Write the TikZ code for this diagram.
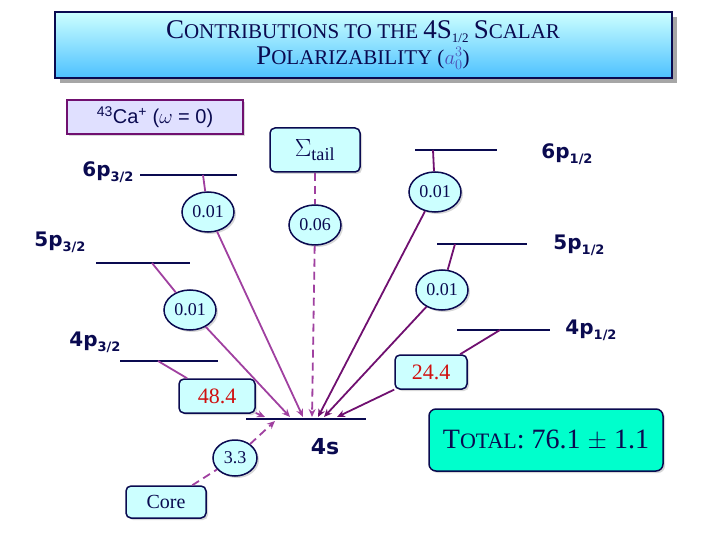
\documentclass[tikz,border=0pt]{standalone}
\usepackage{fontspec}
\setmainfont{Liberation Serif}
\newfontfamily\lvlfont{DejaVu Sans}
\newfontfamily\arialf{Liberation Sans}
\usetikzlibrary{shapes.geometric,arrows.meta,shadows}
\definecolor{navy}{HTML}{0A0A50}
\definecolor{cyanbg}{HTML}{CCFFFF}
\definecolor{lpur}{HTML}{A040A0}
\definecolor{dpur}{HTML}{701070}
\definecolor{numred}{HTML}{D01010}
\definecolor{totbg}{HTML}{00FFCC}
\newcommand\lsub[1]{\raisebox{-0.45ex}{\fontsize{13}{13}\selectfont #1}}
\newcommand\bigC[1]{{\fontsize{27}{27}\selectfont #1}}
\tikzset{
 lvl/.style={draw=navy,line width=1.6pt},
 lvllab/.style={font=\lvlfont\bfseries\fontsize{20}{20}\selectfont,text=navy},
 ell/.style={ellipse,draw=navy,line width=1.5pt,fill=cyanbg,inner sep=1pt,minimum width=52pt,minimum height=40pt,font=\fontsize{18}{18}\selectfont,text=navy,drop shadow={shadow xshift=2pt,shadow yshift=-2pt,fill=gray!60}},
 rbox/.style={rectangle,rounded corners=5pt,draw=navy,line width=1.5pt,fill=cyanbg,font=\fontsize{22}{22}\selectfont,drop shadow={shadow xshift=2pt,shadow yshift=-2pt,fill=gray!60}},
 lcon/.style={draw=lpur,line width=1.8pt},
 dcon/.style={draw=dpur,line width=1.8pt},
 arr/.style={-{Stealth[length=8pt,width=7pt]}},
}
\begin{document}
\begin{tikzpicture}[x=1pt,y=-1pt]
\useasboundingbox (0,0) rectangle (720,540);
% title
\fill[gray!70] (60,17) rectangle (677,83);
\shade[top color=cyan!20!white,bottom color=blue!35!cyan!70!white,draw=navy,line width=1.5pt] (55,12) rectangle (672,78);
\node[text=navy,align=center,font=\fontsize{21}{26}\selectfont,inner sep=0pt] (title) at (363,45) {\bigC{C}ONTRIBUTIONS TO THE \bigC{4S}\lsub{1/2} \bigC{S}CALAR\\\bigC{P}OLARIZABILITY ({\color{blue!40!gray}$a_0^3$})};
% Ca box
\node[draw=dpur,line width=1.5pt,fill=blue!12,minimum width=176pt,minimum height=34pt,text=navy,font=\arialf\fontsize{20}{20}\selectfont,drop shadow={shadow xshift=2pt,shadow yshift=-2pt,fill=gray!60}] (ca) at (155,117) {\textsuperscript{43}Ca\textsuperscript{+} ($\omega$ = 0)};
% levels
\draw[lvl] (140,175) -- (237,175);
\draw[lvl] (96,263) -- (190,263);
\draw[lvl] (120,361) -- (218,361);
\draw[lvl] (415,150) -- (497,150);
\draw[lvl] (437,244) -- (527,244);
\draw[lvl] (457,330) -- (550,330);
\draw[lvl] (246,419) -- (366,419);
\node[lvllab] (t6p3) at (108,172) {6p\lsub{3/2}};
\node[lvllab] (t5p3) at (60,242) {5p\lsub{3/2}};
\node[lvllab] (t4p3) at (95,342) {4p\lsub{3/2}};
\node[lvllab] (t6p1) at (567,154) {6p\lsub{1/2}};
\node[lvllab] (t5p1) at (579,245) {5p\lsub{1/2}};
\node[lvllab] (t4p1) at (591,330) {4p\lsub{1/2}};
\node[lvllab,font=\lvlfont\bfseries\fontsize{22}{22}\selectfont] (t4s) at (325,447) {4s};
\coordinate (s6p3) at (203,175);
\coordinate (s5p3) at (152,263);
\coordinate (s4p3) at (158,361);
\coordinate (s6p1) at (433,150);
\coordinate (s5p1) at (455,244);
\coordinate (s4p1) at (500,330);
\coordinate (e6p3) at (303,417);
\coordinate (e5p3) at (290,417);
\coordinate (e4p3) at (265,417);
\coordinate (etail) at (312,417);
\coordinate (e6p1) at (318,417);
\coordinate (e5p1) at (324,417);
\coordinate (e4p1) at (337,417);
\coordinate (ecore) at (275,421);
% boxes
\node[rbox,minimum width=90pt,minimum height=44pt,text=navy,font=\fontsize{26}{26}\selectfont] (tail) at (315,150) {$\Sigma_{\mathrm{tail}}$};
\node[ell] (a6p3) at (208,212) {0.01};
\node[ell] (a5p3) at (190,310) {0.01};
\node[ell] (atail) at (315,225) {0.06};
\node[ell] (a6p1) at (435,192) {0.01};
\node[ell] (a5p1) at (442,290) {0.01};
\node[rbox,minimum width=76pt,minimum height=34pt,text=numred] (a4p3) at (217,396) {48.4};
\node[rbox,minimum width=72pt,minimum height=34pt,text=numred] (a4p1) at (431,372) {24.4};
\node[ell,minimum width=44pt,minimum height=36pt] (acore) at (235,458) {3.3};
\node[rbox,minimum width=80pt,minimum height=32pt,text=navy,font=\fontsize{20}{20}\selectfont] (core) at (166,502) {Core};
\node[rectangle,rounded corners=7pt,draw=navy,line width=1.5pt,fill=totbg,minimum width=234pt,minimum height=62pt,drop shadow={shadow xshift=2pt,shadow yshift=-2pt,fill=gray!60}] (total) at (546,440) {\color{navy}\fontsize{28}{28}\selectfont T{\fontsize{22}{22}\selectfont OTAL}: 76.1 $\pm$ 1.1};
% connectors
\draw[lcon] (s6p3) -- (a6p3);
\draw[lcon,arr] (a6p3) -- (e6p3);
\draw[lcon] (s5p3) -- (a5p3);
\draw[lcon,arr] (a5p3) -- (e5p3);
\draw[lcon] (s4p3) -- (a4p3);
\draw[lcon,arr] (a4p3) -- (e4p3);
\draw[lcon,dash pattern=on 8pt off 5pt] (tail) -- (atail);
\draw[lcon,arr,dash pattern=on 8pt off 5pt] (atail) -- (etail);
\draw[dcon] (s6p1) -- (a6p1);
\draw[dcon,arr] (a6p1) -- (e6p1);
\draw[dcon] (s5p1) -- (a5p1);
\draw[dcon,arr] (a5p1) -- (e5p1);
\draw[dcon] (s4p1) -- (a4p1);
\draw[dcon,arr] (a4p1) -- (e4p1);
\draw[lcon,dash pattern=on 8pt off 5pt] (core) -- (acore);
\draw[lcon,arr,dash pattern=on 8pt off 5pt] (acore) -- (ecore);
\end{tikzpicture}
\end{document}
